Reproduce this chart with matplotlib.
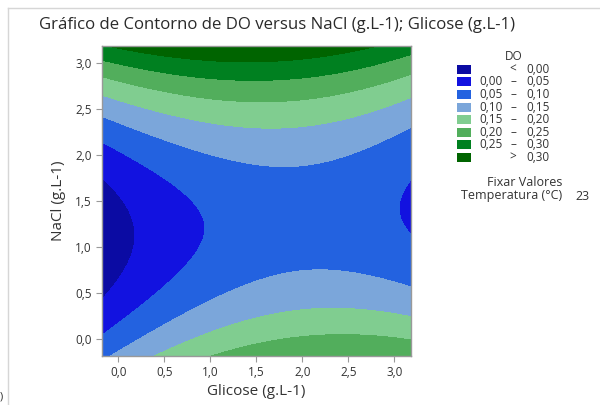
import numpy as np
import matplotlib
matplotlib.use("Agg")
import matplotlib.pyplot as plt
from matplotlib.lines import Line2D
from matplotlib.patches import Rectangle

plt.rcParams['font.family'] = ['Open Sans', 'DejaVu Sans']

# fitted response surface DO = a + b*G + c*N + d*G^2 + e*N^2 + f*G*N
# (coefficients estimated from the contour picture)
coef_names = ["const", "G", "N", "G2", "N2", "GN"]
coef_vals = [0.07718, 0.10867, -0.16761, -0.02216, 0.07550, -0.01540]

glicose_range = [-0.18, 3.18]
nacl_range = [-0.18, 3.18]

levels = [0.00, 0.05, 0.10, 0.15, 0.20, 0.25, 0.30]
colors = ["#0b0ba3", "#1212e0", "#2362e0", "#7ba6da", "#80cd90",
          "#52ae5c", "#008020", "#006400"]
legend_labels = [("", "<", "0,00"), ("0,00", "–", "0,05"), ("0,05", "–", "0,10"),
                 ("0,10", "–", "0,15"), ("0,15", "–", "0,20"), ("0,20", "–", "0,25"),
                 ("0,25", "–", "0,30"), ("", ">", "0,30")]

ticks = [0.0, 0.5, 1.0, 1.5, 2.0, 2.5, 3.0]
tick_labels = ["0,0", "0,5", "1,0", "1,5", "2,0", "2,5", "3,0"]

W, H = 600, 405
fig = plt.figure(figsize=(W / 100, H / 100), dpi=100)

def fx(px):
    return px / W

def fy(py):
    return 1 - py / H

TXT = "#333333"

ax = fig.add_axes([fx(101.7), fy(356), fx(411) - fx(101.7), fy(46) - fy(356)])

g = np.linspace(glicose_range[0], glicose_range[1], 400)
n = np.linspace(nacl_range[0], nacl_range[1], 400)
G, N = np.meshgrid(g, n)
k = dict(zip(coef_names, coef_vals))
Z = (k["const"] + k["G"] * G + k["N"] * N + k["G2"] * G ** 2
     + k["N2"] * N ** 2 + k["GN"] * G * N)

ax.contourf(G, N, Z, levels=[-10] + levels + [10], colors=colors)
ax.set_xlim(glicose_range)
ax.set_ylim(nacl_range)

ax.set_xticks(ticks)
ax.set_xticklabels(tick_labels)
ax.set_yticks(ticks)
ax.set_yticklabels(tick_labels)
ax.tick_params(length=4, width=0.8, color="#999999", labelsize=8.5,
               labelcolor=TXT, pad=3)
for s in ax.spines.values():
    s.set_color("#999999")
    s.set_linewidth(1)

ax.set_xlabel("Glicose (g.L-1)", fontsize=11, color=TXT, labelpad=4)
ax.set_ylabel("NaCl (g.L-1)", fontsize=11, color=TXT, labelpad=7)

fig.text(fx(277), fy(25), "Gráfico de Contorno de DO versus NaCl (g.L-1); Glicose (g.L-1)",
         ha="center", va="center", fontsize=12.1, color="#2a2a2a")

# legend
fs = 8.5
fig.text(fx(514), fy(56), "DO", ha="center", va="center", fontsize=fs, color=TXT)
row_y = 69.3
for col, (lo, sep, hi) in zip(colors, legend_labels):
    fig.patches.append(Rectangle((fx(457), fy(row_y + 4.5)), fx(14), 9 / H,
                                 transform=fig.transFigure, facecolor=col,
                                 edgecolor="none"))
    if lo:
        fig.text(fx(503), fy(row_y), lo, ha="right", va="center", fontsize=fs, color=TXT)
    fig.text(fx(513), fy(row_y), sep, ha="center", va="center", fontsize=fs, color=TXT)
    fig.text(fx(526), fy(row_y), hi, ha="left", va="center", fontsize=fs, color=TXT)
    row_y += 12.6

fig.text(fx(525), fy(183), "Fixar Valores", ha="center", va="center", fontsize=9, color=TXT)
fig.text(fx(461), fy(196), "Temperatura (°C)", ha="left", va="center", fontsize=9, color=TXT)
fig.text(fx(582), fy(196), "23", ha="center", va="center", fontsize=9, color=TXT)

# frame of the graph window
fig.add_artist(Line2D([fx(8), fx(8)], [fy(8), 0], color="#d6d6d6", lw=1))
fig.add_artist(Line2D([fx(8), 1], [fy(8), fy(8)], color="#d6d6d6", lw=1))
fig.text(fx(0), fy(397), ")", ha="left", va="center", fontsize=8, color=TXT)

fig.savefig("out.png", dpi=100)
